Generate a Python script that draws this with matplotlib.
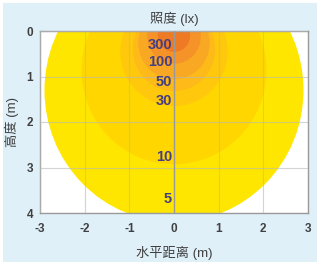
import matplotlib
matplotlib.use('Agg')
import matplotlib.pyplot as plt
from matplotlib.patches import Circle, Rectangle

plt.rcParams['font.family'] = ['Liberation Sans', 'Noto Sans CJK SC', 'DejaVu Sans']

# isolux contours: level (lx), centre height (m), radius (m)
levels = [5, 10, 30, 50, 100, 300, 500]
center_y = [1.30, 0.86, 0.45, 0.40, 0.26, 0.12, 0.10]
radius = [2.90, 2.07, 1.20, 0.92, 0.80, 0.60, 0.36]
label_levels = [300, 100, 50, 30, 10, 5]
label_y = [0.30, 0.69, 1.12, 1.53, 2.78, 3.69]
x_ticks = [-3, -2, -1, 0, 1, 2, 3]
y_ticks = [0, 1, 2, 3, 4]
colors = ['#ffe600', '#ffd600', '#ffc80c', '#fdba18', '#f9a823', '#f59228', '#ee7a24']

fig = plt.figure(figsize=(3.22, 2.66), dpi=100, facecolor='white')
fig.patches.append(Rectangle((3/322, 4/266), 314/322, 259/266, transform=fig.transFigure,
                             facecolor='#dff0f9', edgecolor='none', zorder=-10))
ax = fig.add_axes([40/322, 53/266, 268/322, 182/266])
ax.set_facecolor('white')

for cy, r, c in zip(center_y, radius, colors):
    ax.add_patch(Circle((0, cy), r, facecolor=c, edgecolor='none', zorder=1))

ax.set_xlim(-3, 3)
ax.set_ylim(4, 0)
ax.set_xticks(x_ticks)
ax.set_xticklabels([str(t) for t in x_ticks])
ax.set_yticks(y_ticks)
ax.set_yticklabels([str(t) for t in y_ticks])
ax.grid(True, color='#b8b8b8', linewidth=0.8, alpha=0.6, zorder=2)
ax.set_axisbelow(False)
ax.axvline(0, color='#999999', linewidth=1.0, zorder=3)

for lv, y in zip(label_levels, label_y):
    ax.text(-0.04, y, str(lv), ha='right', va='center', fontsize=10.5,
            fontweight='bold', color='#463f80', zorder=4)

for s in ax.spines.values():
    s.set_color('#9a9a9a')
    s.set_linewidth(1.0)
ax.tick_params(length=0, pad=5, labelsize=8.5, labelcolor='#404040')
ax.tick_params(axis='x', pad=7)
for lab in ax.get_xticklabels() + ax.get_yticklabels():
    lab.set_fontweight('bold')

ax.set_title('照度 (lx)', fontsize=9.5, color='#404040', pad=6)
ax.set_xlabel('水平距离 (m)', fontsize=9.5, color='#404040', labelpad=8)
ax.set_ylabel('高度 (m)', fontsize=9.5, color='#404040', labelpad=5)

fig.savefig('out.png', dpi=100, facecolor=fig.get_facecolor())
